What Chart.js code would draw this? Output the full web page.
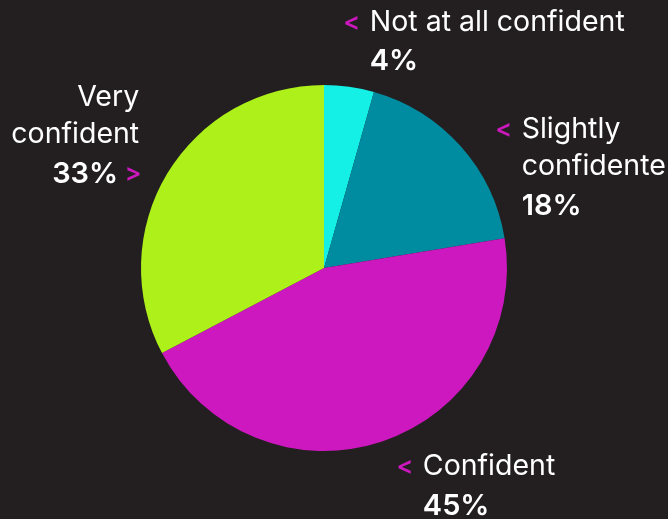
<!DOCTYPE html>
<html>
<head>
<meta charset="utf-8">
<script src="https://cdn.jsdelivr.net/npm/chart.js@4"></script>
<style>
  html, body { margin: 0; padding: 0; background: #231f20; }
  #wrap { width: 668px; height: 519px; }
</style>
</head>
<body>
<div id="wrap"><canvas id="graficoConfianca"></canvas></div>
<script>
// ======== DADOS ========
const categorias = ["Not at all confident", "Slightly confidente", "Confident", "Very confident"];
const valores = [4.4, 18, 44.9, 32.7];

const cores = ["#14f0e6", "#008ca0", "#cc18be", "#adf01a"];

// linhas de texto de cada rótulo e onde ele fica (em raios, relativo ao centro)
const linhasRotulo = [["Not at all confident"], ["Slightly", "confidente"], ["Confident"], ["Very", "confident"]];
const posRotulo = [
    { dx: 0.25, dy: -1.34, align: "left", seta: "<" },
    { dx: 1.08, dy: -0.755, align: "left", seta: "<" },
    { dx: 0.54, dy: 1.087, align: "left", seta: "<" },
    { dx: -1.01, dy: -0.93, align: "right", seta: ">" }
];

// ======== PLUGIN DOS RÓTULOS ========
const rotulosPlugin = {
    id: "rotulos",
    afterDraw(chart) {
        const ctx = chart.ctx;
        const arco = chart.getDatasetMeta(0).data[0];
        const cx = arco.x, cy = arco.y, r = arco.outerRadius;
        const lh = 37;
        ctx.save();
        ctx.textBaseline = "middle";
        valores.forEach((v, i) => {
            const p = posRotulo[i];
            const x = cx + p.dx * r;
            const y = cy + p.dy * r;
            const linhas = linhasRotulo[i];
            ctx.font = "28.5px Inter";
            ctx.fillStyle = "#ffffff";
            ctx.textAlign = p.align;
            linhas.forEach((t, k) => ctx.fillText(t, x, y + k * lh));
            const yPct = y + linhas.length * lh + 2;
            ctx.font = "600 29px Inter";
            const pct = Math.round(v) + "%";
            ctx.fillText(pct, p.align === "right" ? x - 21 : x, yPct);
            // seta magenta
            ctx.font = "600 25px Inter";
            ctx.fillStyle = "#cc18be";
            ctx.textAlign = "center";
            if (p.seta === "<") {
                ctx.fillText("<", x - 18, y);
            } else {
                ctx.fillText(">", x - 6, yPct);
            }
        });
        ctx.restore();
    }
};

// ======== GRÁFICO ========
const grafico = document.getElementById("graficoConfianca");

new Chart(grafico, {
    type: "pie",
    data: {
        labels: categorias,
        datasets: [{
            data: valores,
            backgroundColor: cores,
            borderWidth: 0
        }]
    },
    options: {
        responsive: true,
        maintainAspectRatio: false,
        animation: false,
        layout: {
            padding: { left: 141, top: 85, right: 161, bottom: 68 }
        },
        plugins: {
            legend: { display: false },
            tooltip: { enabled: false }
        }
    },
    plugins: [rotulosPlugin]
});
</script>
</body>
</html>
